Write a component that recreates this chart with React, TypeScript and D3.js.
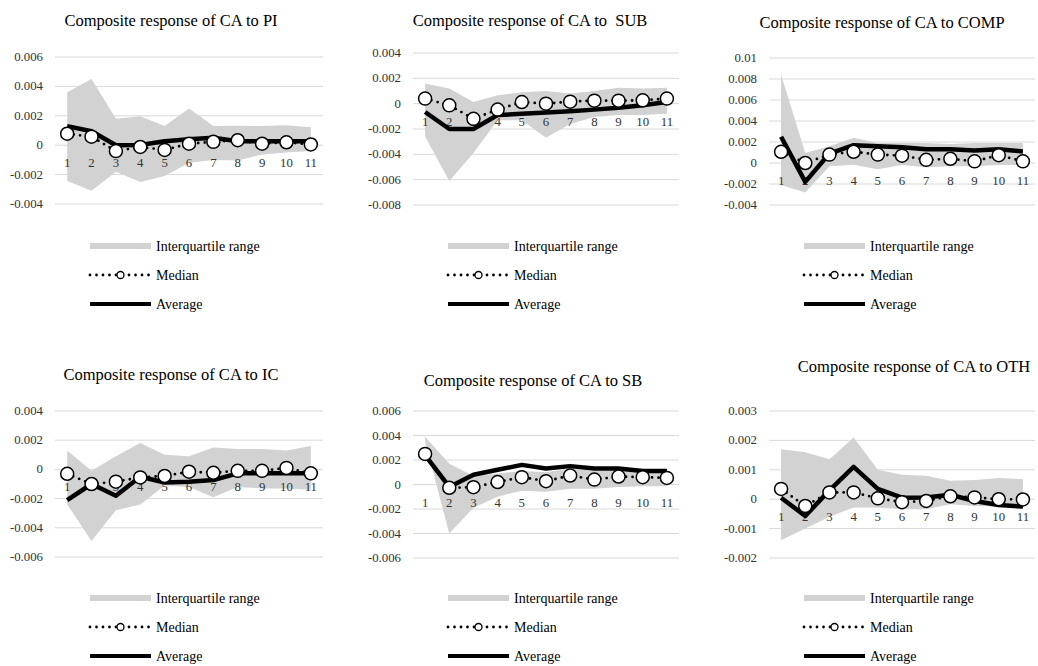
import React from "react";
import * as d3 from "d3";

const categories = ["1", "2", "3", "4", "5", "6", "7", "8", "9", "10", "11"];
const legendLabels = ["Interquartile range", "Median", "Average"];

// PI
const piUpper = [0.0036, 0.0045, 0.0018, 0.00197, 0.0013, 0.0025, 0.0013, 0.00133, 0.0013, 0.00136, 0.00122];
const piLower = [-0.00244, -0.0031, -0.0018, -0.0025, -0.0021, -0.0012, -0.001, -0.00104, -0.00063, -0.0005, -0.0004];
const piMedian = [0.00078, 0.00058, -0.0004, -0.00012, -0.00032, 0.0001, 0.00023, 0.00034, 0.0001, 0.0002, 0.00005];
const piAverage = [0.0013, 0.00095, 0, 0.00002, 0.00027, 0.0004, 0.0005, 0.00027, 0.00027, 0.00027, 0.00027];
const piTicks = [-0.004, -0.002, 0, 0.002, 0.004, 0.006];

// SUB
const subUpper = [0.0016, 0.0012, 0.00013, 0.00066, 0.0009, 0.001, 0.0008, 0.001, 0.00126, 0.0012, 0.00126];
const subLower = [-0.0026, -0.0061, -0.0039, -0.0013, -0.0013, -0.0027, -0.0016, -0.00105, -0.0009, -0.0009, -0.0008];
const subMedian = [0.0004, -0.00013, -0.0012, -0.00047, 0.00013, 0, 0.00016, 0.00024, 0.00024, 0.00026, 0.0004];
const subAverage = [-0.00066, -0.002, -0.002, -0.0009, -0.0008, -0.0007, -0.0006, -0.00047, -0.00032, -0.00013, 0.00013];
const subTicks = [-0.008, -0.006, -0.004, -0.002, 0, 0.002, 0.004];

// COMP
const compUpper = [0.0084, 0.00095, 0.0016, 0.0024, 0.0019, 0.0019, 0.0019, 0.0018, 0.0019, 0.0019, 0.0019];
const compLower = [-0.0021, -0.0028, -0.0003, -0.00016, -0.0006, -0.0002, -0.0004, -0.0003, -0.0003, -0.0002, -0.0002];
const compMedian = [0.00107, 0, 0.0008, 0.00107, 0.0008, 0.0007, 0.0003, 0.0004, 0.00016, 0.00075, 0.00016];
const compAverage = [0.0025, -0.0018, 0.0009, 0.0017, 0.0016, 0.0015, 0.0013, 0.0013, 0.0012, 0.0013, 0.0011];
const compTicks = [-0.004, -0.002, 0, 0.002, 0.004, 0.006, 0.008, 0.01];

// IC
const icUpper = [0.0013, -0.0001, 0.0009, 0.0018, 0.001, 0.0009, 0.0015, 0.0014, 0.0014, 0.0013, 0.0016];
const icLower = [-0.0024, -0.0049, -0.0028, -0.0024, -0.0011, -0.0012, -0.0019, -0.0012, -0.0013, -0.0013, -0.0014];
const icMedian = [-0.0003, -0.001, -0.00084, -0.00055, -0.00045, -0.00016, -0.00023, -0.0001, -0.0001, 0.0001, -0.00027];
const icAverage = [-0.0021, -0.001, -0.0018, -0.0005, -0.0009, -0.00085, -0.00073, -0.00027, -0.00027, -0.00027, -0.00027];
const icTicks = [-0.006, -0.004, -0.002, 0, 0.002, 0.004];

// SB
const sbUpper = [0.0039, 0.0017, 0.0007, 0.0009, 0.0011, 0.001, 0.0013, 0.0011, 0.0011, 0.0011, 0.0009];
const sbLower = [0.0035, -0.004, -0.0019, -0.001, -0.0005, -0.0006, -0.00035, -0.00035, -0.0002, -0.00014, -0.00014];
const sbMedian = [0.0025, -0.00027, -0.00022, 0.0002, 0.0006, 0.00027, 0.00073, 0.0004, 0.00065, 0.0006, 0.00054];
const sbAverage = [0.0024, -0.0002, 0.0008, 0.0012, 0.0016, 0.0013, 0.0015, 0.0013, 0.0013, 0.0011, 0.0011];
const sbTicks = [-0.006, -0.004, -0.002, 0, 0.002, 0.004, 0.006];

// OTH
const othUpper = [0.0017, 0.0016, 0.00136, 0.0021, 0.001, 0.00083, 0.0008, 0.00063, 0.00065, 0.00072, 0.00068];
const othLower = [-0.0014, -0.001, -0.0006, -0.00028, -0.00028, -0.00034, -0.00034, -0.00017, -0.00023, -0.00025, -0.00028];
const othMedian = [0.00035, -0.00023, 0.00023, 0.00023, 0.00003, -0.0001, -0.00006, 0.0001, 0.00006, 0, -0.00001];
const othAverage = [0.00005, -0.00057, 0.0003, 0.0011, 0.00035, 0.00005, 0.00006, 0.00015, -0.00006, -0.0002, -0.00025];
const othTicks = [-0.002, -0.001, 0, 0.001, 0.002, 0.003];

const panels = [
  { title: "Composite response of CA to PI", upper: piUpper, lower: piLower, median: piMedian, average: piAverage, ticks: piTicks },
  { title: "Composite response of CA to  SUB", upper: subUpper, lower: subLower, median: subMedian, average: subAverage, ticks: subTicks },
  { title: "Composite response of CA to COMP", upper: compUpper, lower: compLower, median: compMedian, average: compAverage, ticks: compTicks },
  { title: "Composite response of CA to IC", upper: icUpper, lower: icLower, median: icMedian, average: icAverage, ticks: icTicks },
  { title: "Composite response of CA to SB", upper: sbUpper, lower: sbLower, median: sbMedian, average: sbAverage, ticks: sbTicks },
  { title: "Composite response of CA to OTH", upper: othUpper, lower: othLower, median: othMedian, average: othAverage, ticks: othTicks },
];

// layout (positions only)
const layout = [
  { x0: 55, x1: 323, yTop: 57, yBot: 204, titleX: 171, titleY: 20, legY: 246 },
  { x0: 413, x1: 679, yTop: 53, yBot: 205, titleX: 530, titleY: 20, legY: 246 },
  { x0: 769, x1: 1035, yTop: 58, yBot: 205, titleX: 882, titleY: 22, legY: 246 },
  { x0: 55, x1: 323, yTop: 411, yBot: 557, titleX: 171, titleY: 374, legY: 598 },
  { x0: 413, x1: 679, yTop: 411, yBot: 558, titleX: 533, titleY: 380, legY: 598 },
  { x0: 769, x1: 1035, yTop: 411, yBot: 558, titleX: 914, titleY: 366, legY: 598 },
];

const FONT = "'Liberation Serif', 'Times New Roman', serif";
const GREY = "#d2d2d2";
const GRID = "#d9d9d9";

const fmt = (v: number) => String(+v.toFixed(4));

function Panel({ p, l }: { p: (typeof panels)[number]; l: (typeof layout)[number] }) {
  const x = d3.scaleBand<string>().domain(categories).range([l.x0, l.x1]);
  const cx = (c: string) => (x(c) as number) + x.bandwidth() / 2;
  const y = d3
    .scaleLinear()
    .domain([p.ticks[0], p.ticks[p.ticks.length - 1]])
    .range([l.yBot, l.yTop]);

  const area = d3
    .area<number>()
    .x((_, i) => cx(categories[i]))
    .y0((_, i) => y(p.lower[i]))
    .y1((_, i) => y(p.upper[i]));
  const line = d3
    .line<number>()
    .x((_, i) => cx(categories[i]))
    .y((d) => y(d));

  const lx = l.x0 + 35;
  const lx2 = lx + 61;
  const rowGap = 29;

  return (
    <g>
      <text x={l.titleX} y={l.titleY} textAnchor="middle" dominantBaseline="central" fontSize={16.5} fontFamily={FONT} fill="#000" style={{ whiteSpace: "pre" }}>
        {p.title}
      </text>
      {p.ticks.map((t) => (
        <g key={t}>
          <line x1={l.x0} x2={l.x1} y1={y(t)} y2={y(t)} stroke={GRID} strokeWidth={1} />
          <text x={l.x0 - 12} y={y(t)} textAnchor="end" dominantBaseline="central" fontSize={12.8} fontFamily={FONT} fill="#333">
            {fmt(t)}
          </text>
        </g>
      ))}
      <path d={area(p.upper) || ""} fill={GREY} />
      {categories.map((c) => (
        <text key={c} x={cx(c)} y={y(0) + 18} textAnchor="middle" dominantBaseline="central" fontSize={12.8} fontFamily={FONT} fill="#333">
          {c}
        </text>
      ))}
      <path d={line(p.median) || ""} fill="none" stroke="#000" strokeWidth={2.8} strokeLinecap="round" strokeDasharray="0 6.5" />
      <path d={line(p.average) || ""} fill="none" stroke="#000" strokeWidth={4.5} strokeLinejoin="round" />
      {p.median.map((v, i) => (
        <circle key={i} cx={cx(categories[i])} cy={y(v)} r={6.5} fill="#fff" stroke="#000" strokeWidth={1.5} />
      ))}
      {/* legend */}
      <rect x={lx} y={l.legY - 3} width={lx2 - lx} height={6} fill={GREY} />
      <text x={lx2 + 5} y={l.legY} dominantBaseline="central" fontSize={14} fontFamily={FONT} fill="#000">
        {legendLabels[0]}
      </text>
      <line x1={lx} x2={lx2} y1={l.legY + rowGap} y2={l.legY + rowGap} stroke="#000" strokeWidth={2.8} strokeLinecap="round" strokeDasharray="0 6.5" />
      <circle cx={(lx + lx2) / 2} cy={l.legY + rowGap} r={3.5} fill="#fff" stroke="#000" strokeWidth={1.3} />
      <text x={lx2 + 5} y={l.legY + rowGap} dominantBaseline="central" fontSize={14} fontFamily={FONT} fill="#000">
        {legendLabels[1]}
      </text>
      <line x1={lx} x2={lx2} y1={l.legY + rowGap * 2} y2={l.legY + rowGap * 2} stroke="#000" strokeWidth={4} />
      <text x={lx2 + 5} y={l.legY + rowGap * 2} dominantBaseline="central" fontSize={14} fontFamily={FONT} fill="#000">
        {legendLabels[2]}
      </text>
    </g>
  );
}

export default function App() {
  return (
    <svg width={1038} height={666} style={{ position: "absolute", left: 0, top: 0, background: "#fff" }}>
      <rect x={0} y={0} width={1038} height={666} fill="#fff" />
      {panels.map((p, i) => (
        <Panel key={i} p={p} l={layout[i]} />
      ))}
    </svg>
  );
}
